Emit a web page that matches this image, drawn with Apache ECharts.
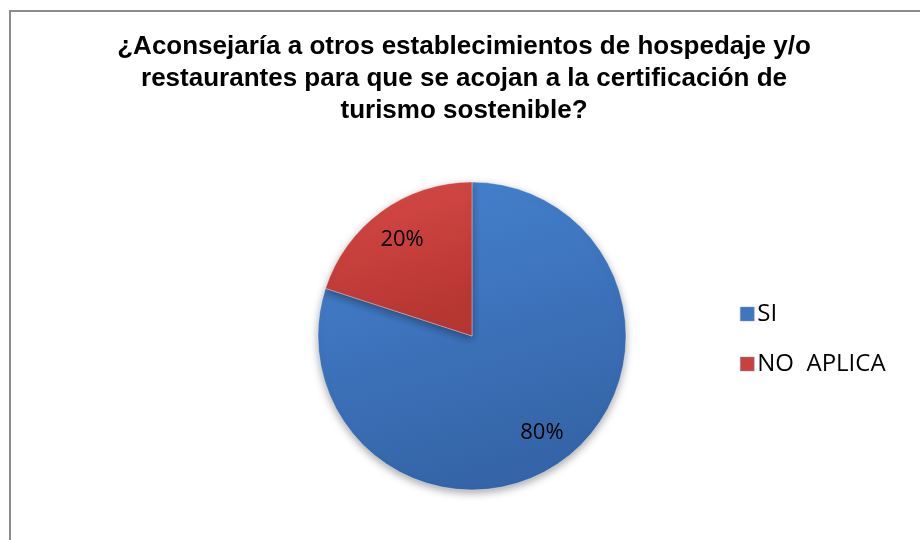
<!DOCTYPE html>
<html>
<head>
<meta charset="utf-8">
<script src="https://cdn.jsdelivr.net/npm/echarts@6/dist/echarts.min.js"></script>
<style>
  html, body { margin: 0; padding: 0; background: #fff; }
  #frame { position: absolute; left: 9px; top: 10px; width: 911px; height: 530px;
           border-left: 2px solid #8c8c8c; border-top: 2px solid #8c8c8c; }
  #chart { position: absolute; left: 0; top: 0; width: 920px; height: 540px; }
</style>
</head>
<body>
<div id="frame"></div>
<div id="chart"></div>
<script>
const titleText = '¿Aconsejaría a otros establecimientos de hospedaje y/o\nrestaurantes para que se acojan a la certificación de\nturismo sostenible?';
const categories = ['SI', 'NO  APLICA'];
const values = [80, 20];
const colors = ['#3f76c0', '#c8413e'];

const chart = echarts.init(document.getElementById('chart'));

const sliceColor = (light, dark) => ({
  type: 'linear', x: 0, y: 0, x2: 0.3, y2: 1,
  colorStops: [
    {offset: 0, color: light},
    {offset: 1, color: dark}
  ]
});
const fills = [
  sliceColor('#4683d1', '#3565a8'),
  sliceColor('#d84a46', '#b63632')
];

const pieData = categories.map((name, i) => ({
  name: name,
  value: values[i],
  itemStyle: {color: fills[i]}
}));

chart.setOption({
  animation: false,
  title: {
    text: titleText,
    left: 459,
    top: 26,
    textAlign: 'center',
    textStyle: {
      fontFamily: 'Liberation Sans, Arial',
      fontWeight: 'bold',
      fontSize: 26,
      lineHeight: 32,
      color: '#000'
    }
  },
  legend: {
    orient: 'vertical',
    left: 735,
    top: 297,
    itemGap: 26,
    itemWidth: 14,
    itemHeight: 14,
    icon: 'rect',
    data: categories.map((name, i) => ({
      name: name,
      itemStyle: {color: colors[i], borderColor: '#8a9ab0', borderWidth: 0.5}
    })),
    textStyle: {
      fontFamily: 'Open Sans, Noto Sans, sans-serif',
      fontSize: 24,
      lineHeight: 24,
      color: '#000',
      padding: [0, 0, 0, -2]
    }
  },
  series: [
    {
      type: 'pie',
      center: [472, 336],
      radius: [0, 154],
      startAngle: 90,
      clockwise: true,
      silent: true,
      label: {show: false},
      labelLine: {show: false},
      itemStyle: {
        borderColor: 'rgba(255,255,255,0.35)',
        borderWidth: 1,
        shadowBlur: 8,
        shadowOffsetY: 3,
        shadowColor: 'rgba(0,0,0,0.35)'
      },
      data: pieData
    },
    {
      // transparent overlay only to place the percentage labels further out
      type: 'pie',
      center: [472, 336],
      radius: [0, 232],
      startAngle: 90,
      clockwise: true,
      silent: true,
      itemStyle: {color: 'rgba(0,0,0,0)'},
      labelLine: {show: false},
      label: {
        show: true,
        position: 'inside',
        formatter: '{d}%',
        fontFamily: 'Open Sans, Noto Sans, sans-serif',
        fontSize: 22,
        color: '#000'
      },
      data: categories.map((name, i) => ({name: name, value: values[i]}))
    }
  ]
});
</script>
</body>
</html>
